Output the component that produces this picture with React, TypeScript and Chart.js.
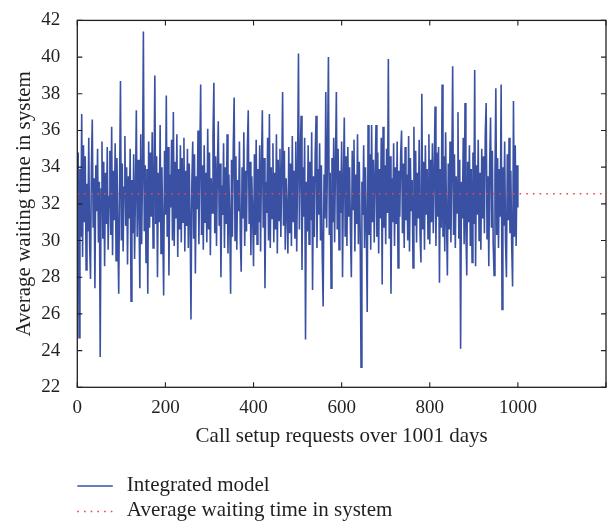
import React, { useEffect, useRef } from "react";
import { Chart, registerables } from "chart.js";

Chart.register(...registerables);

// Average waiting time in system, sampled every 2nd day (day = index * DAY_STEP)
const DAY_STEP = 2;
const waitingTime: number[] = [
  32.5, 34.8, 24.7, 33.9, 30.2, 36.9, 29.1, 35.2, 31.0, 34.6, 28.4, 33.1, 30.5, 35.6, 29.8, 27.9, 34.0, 36.6, 30.7, 33.4,
  27.4, 34.1, 31.6, 35.0, 29.9, 33.2, 23.65, 32.8, 35.4, 30.1, 34.3, 28.6, 33.7, 30.9, 35.1, 29.5, 32.4, 34.9, 30.3, 36.2,
  29.2, 33.8, 31.1, 35.3, 28.9, 34.5, 30.6, 27.1, 33.0, 38.7, 30.0, 34.2, 29.4, 32.9, 35.7, 30.8, 34.0, 28.7, 33.5, 31.2,
  35.0, 26.7, 33.3, 30.4, 34.7, 29.0, 32.6, 37.1, 30.2, 34.4, 31.5, 27.4, 35.8, 29.8, 33.6, 41.4, 30.5, 34.1, 28.8, 33.9,
  27.1, 35.4, 30.7, 34.8, 31.3, 35.9, 29.6, 33.2, 39.0, 30.9, 34.6, 28.0, 33.7, 31.0, 36.3, 29.3, 34.0, 30.6, 27.0, 34.9,
  31.4, 37.9, 30.2, 35.1, 28.1, 33.6, 31.8, 35.5, 30.0, 37.0, 29.7, 34.3, 31.2, 35.8, 29.1, 33.9, 30.6, 35.2, 29.9, 34.5,
  31.0, 35.6, 29.4, 33.8, 30.8, 35.0, 29.6, 34.2, 31.3, 25.7, 33.1, 35.4, 30.1, 34.7, 28.2, 33.5, 31.7, 36.0, 29.8, 34.4,
  38.5, 30.3, 34.1, 29.5, 35.2, 31.0, 33.7, 29.9, 36.1, 30.6, 34.8, 29.2, 33.4, 31.5, 35.7, 38.6, 30.4, 34.6, 29.7, 33.9,
  36.5, 30.8, 34.2, 28.0, 33.0, 31.4, 35.3, 29.6, 34.0, 30.9, 35.8, 29.3, 33.6, 31.1, 27.1, 34.4, 30.2, 35.1, 37.8, 30.0,
  34.6, 29.5, 33.3, 31.6, 35.4, 30.1, 28.3, 34.0, 31.2, 35.9, 29.7, 33.8, 30.5, 35.0, 37.1, 30.9, 34.3, 29.2, 33.5, 31.4,
  28.6, 34.7, 30.3, 35.5, 29.8, 33.9, 31.0, 35.2, 29.4, 34.1, 37.1, 30.7, 34.5, 27.4, 33.2, 31.5, 35.6, 30.0, 36.9, 29.6,
  34.0, 31.2, 35.3, 29.9, 33.7, 30.6, 35.8, 29.3, 34.4, 31.1, 35.0, 30.2, 33.6, 38.1, 30.8, 34.9, 29.5, 33.4, 31.6, 29.3,
  35.1, 30.4, 34.2, 29.7, 35.7, 31.0, 33.8, 30.1, 35.4, 29.4, 33.9, 40.2, 30.6, 34.5, 36.8, 28.4, 34.0, 31.3, 35.6, 24.6,
  33.2, 30.5, 35.2, 29.8, 34.3, 31.1, 35.9, 27.3, 33.5, 30.2, 34.7, 36.8, 29.6, 33.9, 31.4, 35.3, 30.0, 34.1, 29.1, 26.4,
  33.6, 31.2, 38.1, 30.7, 34.8, 40.0, 30.3, 33.7, 27.4, 34.5, 31.0, 35.6, 29.9, 34.2, 38.1, 30.6, 35.0, 29.5, 33.8, 31.5,
  35.4, 28.0, 33.3, 36.7, 30.2, 34.6, 29.7, 35.1, 31.3, 34.0, 30.5, 28.0, 34.9, 31.7, 35.5, 29.4, 33.6, 30.9, 35.8, 29.8,
  34.3, 30.6, 23.1, 33.2, 31.4, 35.2, 29.6, 34.0, 30.8, 26.1, 36.3, 30.3, 34.7, 29.5, 36.3, 31.0, 34.4, 29.9, 33.5, 36.3,
  30.2, 34.8, 29.3, 33.9, 31.2, 35.6, 27.6, 36.2, 30.7, 34.1, 29.8, 35.0, 31.5, 39.9, 30.1, 34.6, 27.1, 33.4, 31.0, 35.3,
  29.7, 34.0, 30.9, 35.4, 28.5, 33.8, 31.3, 34.7, 36.0, 30.4, 34.2, 29.6, 35.1, 31.1, 33.6, 30.0, 35.7, 29.4, 34.5, 31.6,
  33.3, 28.5, 36.2, 30.8, 34.9, 29.9, 33.7, 31.2, 35.5, 30.3, 28.8, 38.0, 30.6, 34.3, 29.5, 35.2, 31.4, 33.9, 30.1, 35.8,
  29.8, 34.4, 31.0, 35.3, 30.4, 33.6, 37.3, 29.7, 34.8, 31.3, 35.1, 27.7, 33.9, 30.7, 38.5, 30.2, 34.6, 29.4, 35.9, 31.1,
  28.1, 34.2, 30.6, 35.4, 29.9, 33.8, 39.5, 30.3, 34.7, 29.6, 33.5, 31.5, 37.0, 30.1, 34.4, 24.1, 33.2, 31.2, 35.6, 29.8,
  37.5, 30.5, 28.1, 34.3, 31.0, 35.2, 29.7, 33.9, 28.8, 34.8, 30.9, 39.3, 28.6, 34.1, 31.4, 35.5, 30.0, 33.7, 29.5, 35.0,
  31.2, 34.6, 30.4, 35.8, 37.5, 30.1, 33.5, 28.6, 34.2, 36.7, 30.7, 34.9, 29.8, 28.1, 33.6, 38.3, 30.3, 34.5, 29.6, 33.9,
  31.3, 38.5, 26.25, 34.0, 30.8, 35.4, 29.9, 28.0, 34.7, 31.1, 35.6, 30.4, 33.8, 29.7, 27.5, 37.6, 30.2, 35.2, 29.7, 34.1,
  31.8,
];

const AVERAGE_WAITING = 32.55;
const averageSpan = [0, 1200];

const X_MIN = 0;
const X_MAX = 1200;
const X_STEP = 200;
const xTickLabels = ["0", "200", "400", "600", "800", "1000"];
const Y_MIN = 22;
const Y_MAX = 42;
const Y_STEP = 2;

const seriesLabels = ["Integrated model", "Average waiting time in system"];
const xTitle = "Call setup requests over 1001 days";
const yTitle = "Average waiting time in system";

const BLUE = "#3a51a3";
const RED = "#e8484c";
const INK = "#231f20";
const FONT = "'Liberation Serif', 'Times New Roman', serif";

const framePlugin = {
  id: "frameTicks",
  afterDatasetsDraw(chart: any) {
    const { ctx, chartArea: a, scales } = chart;
    const x = scales.x;
    const y = scales.y;
    const L = 5;
    ctx.save();
    ctx.strokeStyle = INK;
    ctx.lineWidth = 1.1;
    ctx.beginPath();
    x.ticks.forEach((t: any) => {
      const px = x.getPixelForValue(t.value);
      ctx.moveTo(px, a.bottom);
      ctx.lineTo(px, a.bottom - L);
      ctx.moveTo(px, a.top);
      ctx.lineTo(px, a.top + L);
    });
    y.ticks.forEach((t: any) => {
      const py = y.getPixelForValue(t.value);
      ctx.moveTo(a.left, py);
      ctx.lineTo(a.left + L, py);
      ctx.moveTo(a.right, py);
      ctx.lineTo(a.right - L, py);
    });
    ctx.stroke();
    ctx.lineWidth = 1.3;
    ctx.strokeRect(a.left, a.top, a.right - a.left, a.bottom - a.top);
    ctx.restore();
  },
};

const legendPlugin = {
  id: "stackedLegend",
  afterDraw(chart: any) {
    const { ctx, chartArea: a } = chart;
    const lineRows = [486, 511.5];
    const textBaselines = [491, 516];
    ctx.save();
    chart.data.datasets.forEach((ds: any, i: number) => {
      const yy = lineRows[i];
      ctx.beginPath();
      ctx.strokeStyle = ds.borderColor;
      ctx.lineWidth = 1.3;
      ctx.setLineDash(ds.borderDash || []);
      ctx.moveTo(a.left, yy);
      ctx.lineTo(a.left + 35.5, yy);
      ctx.stroke();
      ctx.setLineDash([]);
      ctx.fillStyle = INK;
      ctx.font = `21px ${FONT}`;
      ctx.textBaseline = "alphabetic";
      ctx.textAlign = "left";
      ctx.fillText(ds.label, a.left + 49.5, textBaselines[i]);
    });
    ctx.restore();
  },
};

export default function App() {
  const ref = useRef<HTMLCanvasElement | null>(null);

  useEffect(() => {
    document.body.style.margin = "0";
    if (!ref.current) return;
    const mainData = waitingTime.map((v, i) => ({ x: i * DAY_STEP, y: v }));
    const avgData = averageSpan.map((d) => ({ x: d, y: AVERAGE_WAITING }));
    const chart = new Chart(ref.current, {
      type: "line",
      data: {
        datasets: [
          {
            label: seriesLabels[0],
            data: mainData,
            borderColor: BLUE,
            backgroundColor: BLUE,
            borderWidth: 1.6,
            pointRadius: 0,
            tension: 0,
            fill: false,
            order: 2,
          },
          {
            label: seriesLabels[1],
            data: avgData,
            borderColor: RED,
            backgroundColor: RED,
            borderWidth: 1.3,
            borderDash: [1.6, 5.1],
            pointRadius: 0,
            fill: false,
            order: 1,
          },
        ],
      },
      options: {
        animation: false,
        responsive: false,
        devicePixelRatio: 1,
        layout: { padding: { left: 0, right: 6, top: 15.7, bottom: 71.7 } },
        plugins: {
          legend: { display: false },
          tooltip: { enabled: false },
        },
        scales: {
          x: {
            type: "linear",
            min: X_MIN,
            max: X_MAX,
            grid: { display: false },
            border: { display: false },
            ticks: {
              stepSize: X_STEP,
              autoSkip: false,
              maxRotation: 0,
              padding: 1,
              color: INK,
              font: { family: FONT, size: 19 },
              callback: (v: any) => {
                const s = String(v);
                return xTickLabels.includes(s) ? s : "";
              },
            },
            title: {
              display: true,
              text: xTitle,
              color: INK,
              font: { family: FONT, size: 21 },
              padding: { top: 0, bottom: 0 },
            },
            afterFit: (scale: any) => {
              scale.height = 62;
            },
          },
          y: {
            type: "linear",
            min: Y_MIN,
            max: Y_MAX,
            grid: { display: false },
            border: { display: false },
            ticks: {
              stepSize: Y_STEP,
              padding: 9,
              color: INK,
              font: { family: FONT, size: 19 },
            },
            title: {
              display: true,
              text: yTitle,
              color: INK,
              font: { family: FONT, size: 21 },
              padding: { top: 12, bottom: 0 },
            },
            afterFit: (scale: any) => {
              scale.width = 77.3;
            },
          },
        },
      },
      plugins: [framePlugin, legendPlugin],
    });
    return () => chart.destroy();
  }, []);

  return (
    <div style={{ width: 612, height: 521 }}>
      <canvas ref={ref} width={612} height={521} style={{ display: "block" }} />
    </div>
  );
}
